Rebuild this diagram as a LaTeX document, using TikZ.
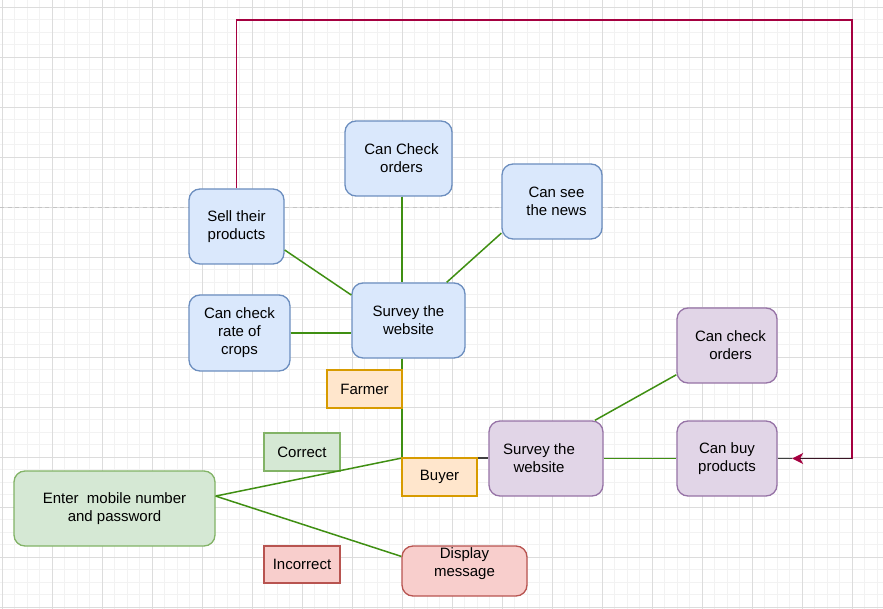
\documentclass[tikz,border=0pt]{standalone}
\usepackage{fontspec}
\setmainfont{Liberation Sans}
\usetikzlibrary{arrows.meta,calc}
\definecolor{bfill}{HTML}{DAE8FC}\definecolor{bline}{HTML}{6C8EBF}
\definecolor{pfill}{HTML}{E1D5E7}\definecolor{pline}{HTML}{9673A6}
\definecolor{gfill}{HTML}{D5E8D4}\definecolor{gline}{HTML}{82B366}
\definecolor{ofill}{HTML}{FFE6CC}\definecolor{oline}{HTML}{D79B00}
\definecolor{rfill}{HTML}{F8CECC}\definecolor{rline}{HTML}{B85450}
\definecolor{edgegreen}{HTML}{3F8F12}
\definecolor{magline}{HTML}{A50040}
\definecolor{darkseg}{HTML}{3A1424}
\definecolor{greyedge}{HTML}{404040}
\definecolor{minorg}{HTML}{F2F2F2}
\definecolor{majorg}{HTML}{DCDCDC}
\definecolor{pagebrk}{HTML}{C4C4C4}
\begin{document}
\begin{tikzpicture}[x=1pt,y=-1pt,
  every node/.style={font=\fontsize{15}{18}\selectfont, align=center, inner sep=0pt, text=black},
  box/.style={draw, line width=1.3pt, rounded corners=11pt, minimum height=75pt},
  bluebox/.style={box, fill=bfill, draw=bline},
  purplebox/.style={box, fill=pfill, draw=pline},
  greenbox/.style={box, fill=gfill, draw=gline},
  redbox/.style={box, fill=rfill, draw=rline},
  tagbox/.style={draw, line width=1.3pt, minimum height=38pt},
  orangetag/.style={tagbox, fill=ofill, draw=oline},
  greentag/.style={tagbox, fill=gfill, draw=gline},
  redtag/.style={tagbox, fill=rfill, draw=rline},
  lbl/.style={font=\fontsize{15}{18}\selectfont, align=center, inner sep=0pt, text=black},
  link/.style={draw=edgegreen, line width=1.5pt},
  greylink/.style={draw=greyedge, line width=1.5pt},
  redlink/.style={draw=magline, line width=1.5pt},
  minorline/.style={draw=minorg, line width=1pt},
  majorline/.style={draw=majorg, line width=1pt},
  pageline/.style={draw=pagebrk, line width=1.4pt, dash pattern=on 4pt off 3.5pt}
]
\useasboundingbox (0,0) rectangle (883,609);
\fill[white] (0,0) rectangle (883,609);
% grid
\foreach \i in {0,...,70} \draw[minorline] ({2.3+12.5*\i},0) -- ({2.3+12.5*\i},609);
\foreach \i in {0,...,48} \draw[minorline] (0,{7.3+12.5*\i}) -- (883,{7.3+12.5*\i});
\foreach \i in {0,...,17} \draw[majorline] ({2.3+50*\i},0) -- ({2.3+50*\i},609);
\foreach \i in {0,...,12} \draw[majorline] (0,{7.3+50*\i}) -- (883,{7.3+50*\i});
\draw[pageline] (0,207.5) -- (883,207.5);

% nodes
\node[bluebox, minimum width=107pt, label={[lbl,xshift=3pt]center:Can Check\\orders}] (cco) at (398.5,158.5) {};
\node[bluebox, minimum width=100pt, label={[lbl,xshift=4.5pt]center:Can see\\the news}] (news) at (552,201.5) {};
\node[bluebox, minimum width=95pt] (sell) at (236.5,226.5) {Sell their\\products};
\node[bluebox, minimum width=101pt, minimum height=76pt] (rate) at (239.5,333) {Can check\\rate of\\crops};
\node[bluebox, minimum width=113pt] (ss1) at (408.5,320.5) {Survey the\\website};
\node[purplebox, minimum width=114pt, label={[lbl,xshift=-7pt]center:Survey the\\website}] (ss2) at (546,458.5) {};
\node[purplebox, minimum width=100pt, label={[lbl,xshift=3.5pt]center:Can check\\orders}] (pco) at (727,345.5) {};
\node[purplebox, minimum width=100pt] (buy) at (727,458.5) {Can buy\\products};
\node[greenbox, minimum width=201pt] (enter) at (114.5,508.5) {Enter~ mobile number\\and password};
\node[redbox, minimum width=125pt, minimum height=50pt, label={[lbl,yshift=7pt]center:Display\\message}] (disp) at (464.5,571) {};
\node[greentag, minimum width=76pt] (correct) at (302,452) {Correct};
\node[redtag, minimum width=76pt, minimum height=37pt] (incorrect) at (302,564.5) {Incorrect};

% connectors
\coordinate (xa) at (402,0);
\coordinate (jn) at (402,458);
\coordinate (rc1) at (852,20);
\coordinate (tipc) at ($(buy.east)+(14.5,0)$);
\draw[link] (ss1.north -| xa) -- (cco.south -| xa);
\draw[link] (ss1.45) -- (news.212);
\draw[link] (sell.-26) -- (ss1.156);
\draw[link] (rate.east) -- (rate.east -| ss1.west);
\draw[link] (ss1.south -| xa) -- (jn);
\draw[link] (jn) -- (enter.7.7);
\draw[link] (enter.7.7) -- (disp.167.4);
\draw[greylink] (jn) -- (jn -| ss2.west);
\draw[link] (ss2.east |- buy.west) -- (buy.west);
\draw[link] (ss2.38) -- (pco.210);
\draw[redlink, -{Stealth[length=11pt,width=11pt,inset=3pt]}] (sell.north) |- (rc1) |- (tipc);
\draw[greyedge, line width=1.5pt] (buy.east) -- (tipc);
\draw[darkseg, line width=1.5pt] ($(tipc)+(8,0)$) -- (buy.east -| rc1);

% tags drawn over the connectors
\node[orangetag, minimum width=75pt] (farmer) at (364.5,389) {Farmer};
\node[orangetag, minimum width=75pt] (buyer) at (439.5,477) {Buyer};
\end{tikzpicture}
\end{document}
